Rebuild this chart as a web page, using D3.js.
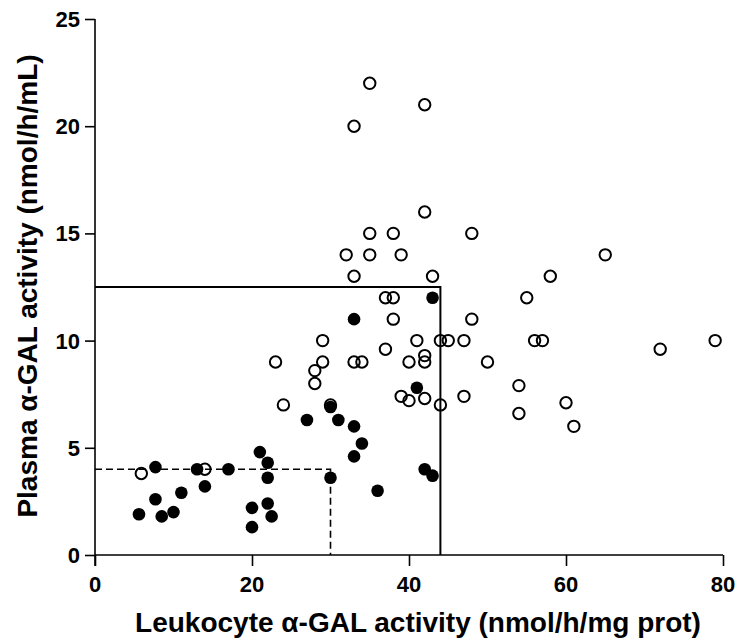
<!DOCTYPE html>
<html><head><meta charset="utf-8">
<script src="https://cdn.jsdelivr.net/npm/d3@7"></script>
<style>body{margin:0;background:#fff}svg{display:block}</style>
</head><body>
<script>
const xTicks = [0, 20, 40, 60, 80];
const yTicks = [0, 5, 10, 15, 20, 25];
const xTitle = "Leukocyte \u03b1-GAL activity (nmol/h/mg prot)";
const yTitle = "Plasma \u03b1-GAL activity (nmol/h/mL)";
// open circles: [leukocyte, plasma]
const openX = [5.9,14,23,24,28,28,29,29,30,32,33,33,33,34,35,35,35,37,38,37,38,38,39,39,40,40,41,42,42,42,42,42,43,44,45,44,47,47,48,48,50,54,54,55,56,57,58,60,61,65,72,79];
const openY = [3.8,4.0,9.0,7.0,8.6,8.0,9.0,10,7.0,14,20,13,9.0,9.0,22,15,14,12,12,9.6,15,11,14,7.4,9.0,7.2,10,21,16,9.3,9.0,7.3,13,10,10,7.0,10,7.4,15,11,9.0,7.9,6.6,12,10,10,13,7.1,6.0,14,9.6,10];
// filled circles
const fillX = [5.6,7.7,7.7,8.5,10,11,13,14,17,20,20,21,22,22,22,22.5,27,30,30,31,33,33,33,34,36,41,42,43,43];
const fillY = [1.9,4.1,2.6,1.8,2.0,2.9,4.0,3.2,4.0,2.2,1.3,4.8,4.3,3.6,2.4,1.8,6.3,6.9,3.6,6.3,11,6.0,4.6,5.2,3.0,7.8,4.0,3.7,12];
// reference cut-off lines
const solidRef = [[0,12.5],[44,12.5],[44,0]];
const dashRef = [[0,4],[30,4],[30,0]];

const W = 739, H = 643;
const svg = d3.select("body").append("svg").attr("width", W).attr("height", H);
const x = d3.scaleLinear().domain([0, 80]).range([95, 723]);
const y = d3.scaleLinear().domain([0, 25]).range([555, 19]);
const font = "'Liberation Sans', Arial, Helvetica, sans-serif";

const line = d3.line().x(d => x(d[0])).y(d => y(d[1]));
svg.append("path").attr("d", line(solidRef)).style("fill","none").style("stroke","#000").style("stroke-width",2);
svg.append("path").attr("d", line(dashRef)).style("fill","none").style("stroke","#000").style("stroke-width",1.6).style("stroke-dasharray","7,4");

const xa = svg.append("g").attr("transform", "translate(0,555)")
  .call(d3.axisBottom(x).tickValues(xTicks).tickSize(11).tickFormat(""));
const ya = svg.append("g").attr("transform", "translate(95,0)")
  .call(d3.axisLeft(y).tickValues(yTicks).tickSize(10).tickFormat(""));
xa.select(".domain").attr("d", "M95,0H723");
ya.select(".domain").attr("d", "M0,19V566");
svg.selectAll(".domain").style("stroke", "#000").style("stroke-width", 1.6);
svg.selectAll(".tick line").style("stroke", "#000").style("stroke-width", 1.6);
svg.selectAll(".tick text").remove();

svg.append("g").selectAll("text").data(xTicks).join("text")
  .attr("x", d => x(d)).attr("y", 592).attr("text-anchor", "middle")
  .style("font-family", font).style("font-weight", "700").style("font-size", "22px").style("fill", "#000")
  .text(d => String(d));
svg.append("g").selectAll("text").data(yTicks).join("text")
  .attr("x", 80).attr("y", d => y(d) + 8).attr("text-anchor", "end")
  .style("font-family", font).style("font-weight", "700").style("font-size", "22px").style("fill", "#000")
  .text(d => String(d));

svg.append("g").selectAll("circle").data(openX.map((v,i)=>[v, openY[i]])).join("circle")
  .attr("cx", d => x(d[0])).attr("cy", d => y(d[1])).attr("r", 5.7)
  .style("fill", "none").style("stroke", "#000").style("stroke-width", 2);
svg.append("g").selectAll("circle").data(fillX.map((v,i)=>[v, fillY[i]])).join("circle")
  .attr("cx", d => x(d[0])).attr("cy", d => y(d[1])).attr("r", 6.3)
  .style("fill", "#000");

svg.append("text").attr("x", 418).attr("y", 632).attr("text-anchor","middle")
  .style("font-family", font).style("font-weight","700").style("font-size", "28px").text(xTitle);
svg.append("text").attr("transform","translate(37,286) rotate(-90)").attr("text-anchor","middle")
  .style("font-family", font).style("font-weight","700").style("font-size", "28px").text(yTitle);
</script>
</body></html>
